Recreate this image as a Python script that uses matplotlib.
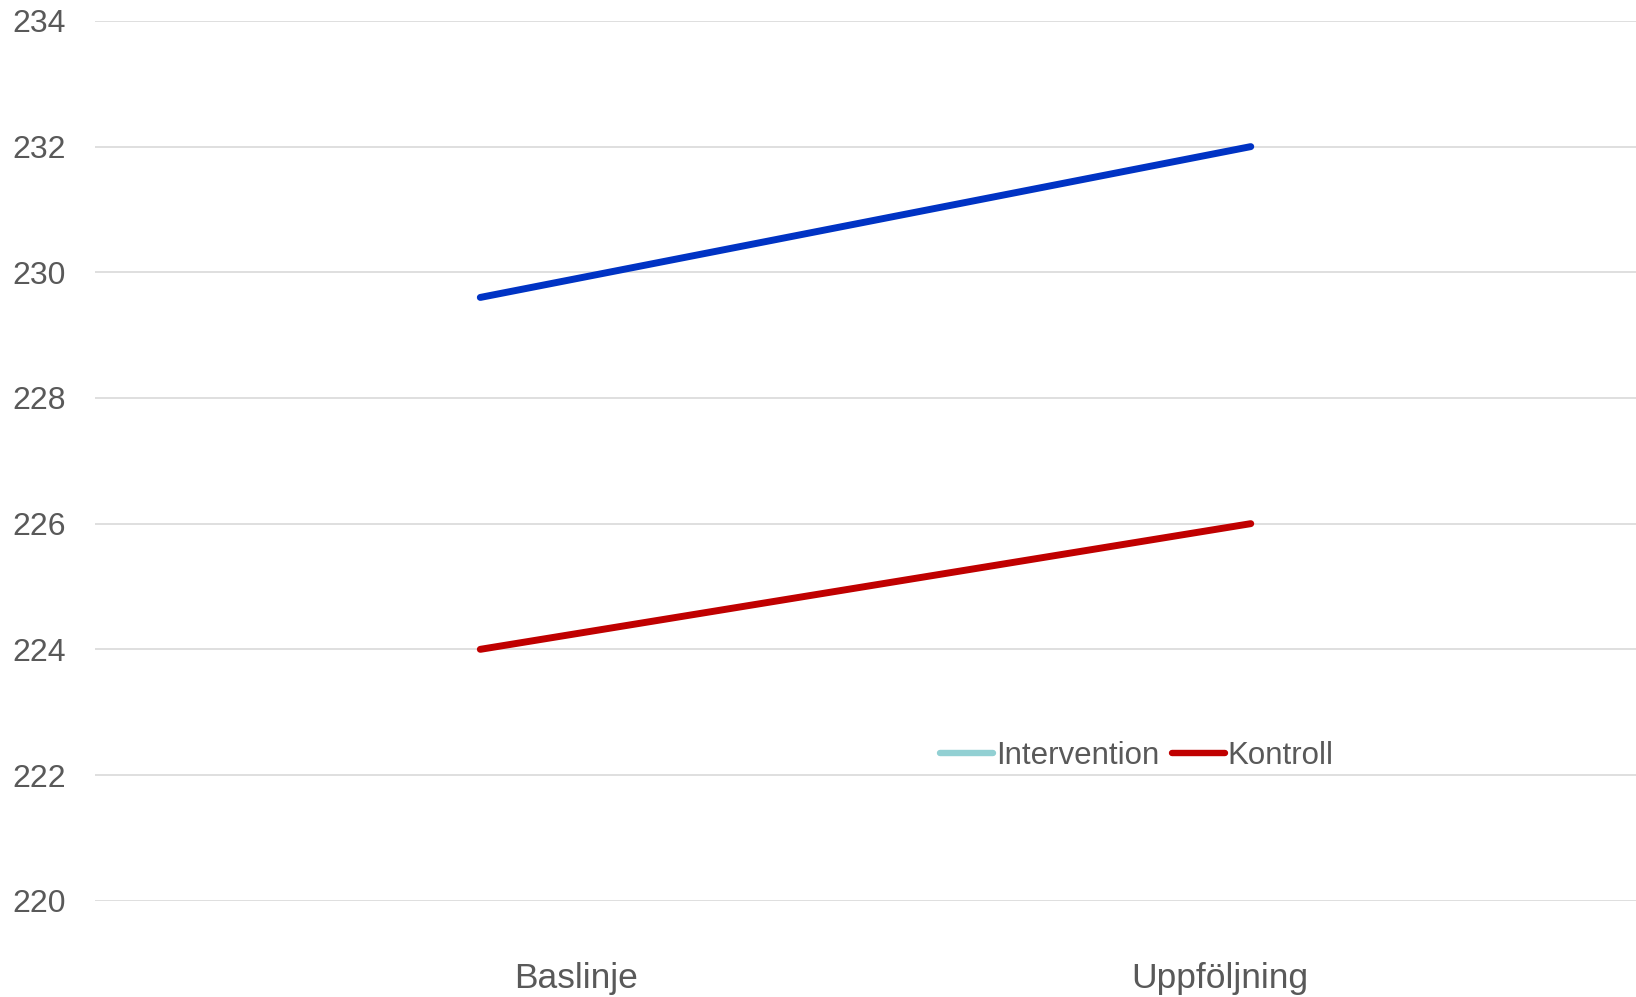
import matplotlib
matplotlib.use("Agg")
import matplotlib.pyplot as plt
import matplotlib.transforms as mtransforms
from matplotlib.lines import Line2D

# data
categories = ["Baslinje", "Uppföljning"]
intervention = [229.6, 232.0]
kontroll = [224.0, 226.0]
y_ticks = [220, 222, 224, 226, 228, 230, 232, 234]

plt.rcParams['font.family'] = ['Liberation Sans', 'DejaVu Sans']
text_col = '#595959'

fig = plt.figure(figsize=(16.36, 9.97), dpi=100)
ax = fig.add_axes([0.0581, 0.0966, 0.9419, 0.8824])

x = list(range(len(categories)))
ax.plot(x, intervention, color='#0033C4', lw=5, solid_capstyle='round', label='Intervention')
ax.plot(x, kontroll, color='#C00000', lw=5, solid_capstyle='round', label='Kontroll')

ax.set_xlim(-0.5, 1.5)
ax.set_ylim(220, 234)
ax.set_yticks(y_ticks)
ax.set_yticklabels([str(v) for v in y_ticks])
ax.grid(axis='y', color='#D9D9D9', lw=1.2)
ax.set_axisbelow(True)
for s in ax.spines.values():
    s.set_visible(False)
ax.tick_params(axis='y', length=0, pad=21, labelsize=23, labelcolor=text_col)
ax.tick_params(axis='x', length=0, pad=44, labelsize=25.5, labelcolor=text_col)
ax.set_xticks(x)
ax.set_xticklabels(categories)

# the labels in the reference sit off the category centres
offsets = [0.96, -0.31]
for lab, dx in zip(ax.get_xticklabels(), offsets):
    lab.set_transform(lab.get_transform() + mtransforms.ScaledTranslation(dx, 0, fig.dpi_scale_trans))

handles = [Line2D([], [], color='#92D0D3', lw=4.6, solid_capstyle='round'),
           Line2D([], [], color='#C00000', lw=4.6, solid_capstyle='round')]
leg = ax.legend(handles, ['Intervention', 'Kontroll'], loc='center', bbox_to_anchor=(0.676, 0.164),
                ncol=2, frameon=False, fontsize=22.5, handlelength=1.7, handletextpad=0.1,
                columnspacing=0.4)
for t in leg.get_texts():
    t.set_color(text_col)

fig.savefig('out.png', dpi=100)
